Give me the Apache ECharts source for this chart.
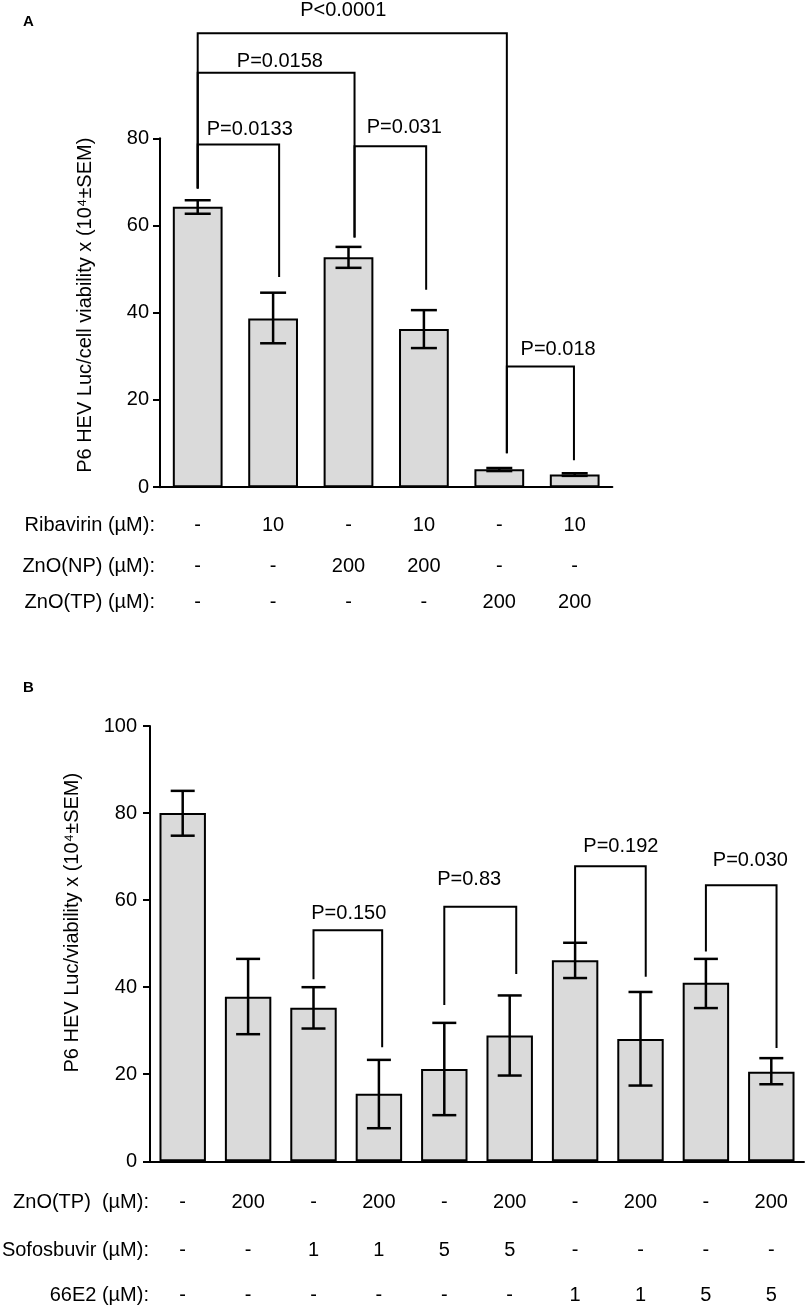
<!DOCTYPE html>
<html>
<head>
<meta charset="utf-8">
<title>P6 HEV Luc panels A and B</title>
<script src="https://cdn.jsdelivr.net/npm/echarts@6/dist/echarts.min.js"></script>
<style>
  html, body { margin: 0; padding: 0; background: #fff; }
  #chart { width: 807px; height: 1312px; }
</style>
</head>
<body>
<div id="chart"></div>
<script>
// ---- panel A ----
var groupsA = ['A1', 'A2', 'A3', 'A4', 'A5', 'A6'];
var meanA = [64.3, 38.7, 52.7, 36.3, 4.1, 2.9];
var lowA  = [62.7, 33.0, 50.3, 31.9, 3.7, 2.6];
var highA = [65.8, 44.6, 55.1, 40.6, 4.4, 3.2];
var ribavirinA = ['-', '10', '-', '10', '-', '10'];
var znoNpA     = ['-', '-', '200', '200', '-', '-'];
var znoTpA     = ['-', '-', '-', '-', '200', '200'];
// [from, to, left end, top, right end, text, text x, text y]  (data units)
var bracketsA = [
  [0, 4.1, 68.5, 104.1, 7.8, 'P<0.0001', 1.93, 109.4],
  [0, 2.08, 68.5, 95.05, 57.25, 'P=0.0158', 1.09, 97.5],
  [0, 1.08, 68.5, 78.6, 48.2, 'P=0.0133', 0.69, 82.0],
  [2.08, 3.03, 57.25, 78.2, 45.3, 'P=0.031', 2.74, 82.4],
  [4.1, 4.99, 7.8, 27.7, 6.2, 'P=0.018', 4.78, 31.6]
];

// ---- panel B ----
var groupsB = ['B1', 'B2', 'B3', 'B4', 'B5', 'B6', 'B7', 'B8', 'B9', 'B10'];
var meanB = [80.0, 37.8, 35.3, 15.5, 21.2, 28.9, 46.2, 28.1, 41.0, 20.6];
var lowB  = [74.8, 29.2, 30.5, 7.6, 10.6, 19.7, 42.1, 17.4, 35.2, 17.7];
var highB = [85.1, 46.5, 40.0, 23.3, 31.8, 38.1, 50.2, 38.9, 46.5, 23.7];
var znoTpB      = ['-', '200', '-', '200', '-', '200', '-', '200', '-', '200'];
var sofosbuvirB = ['-', '-', '1', '1', '5', '5', '-', '-', '-', '-'];
var e66B        = ['-', '-', '-', '-', '-', '-', '1', '1', '5', '5'];
var bracketsB = [
  [2, 3.05, 41.8, 53.1, 26.2, 'P=0.150', 2.54, 57.0],
  [4, 5.1, 35.9, 58.5, 43.0, 'P=0.83', 4.38, 64.8],
  [6, 7.08, 50.2, 67.8, 42.4, 'P=0.192', 6.7, 72.3],
  [8, 9.08, 48.2, 63.4, 26.0, 'P=0.030', 8.68, 69.0]
];

var FONT = '"Liberation Sans", Arial, sans-serif';
var txt = { color: '#000', fontSize: 20, fontFamily: FONT };

function errorBar(half) {
  return function (params, api) {
    var x = api.value(0);
    var lo = api.coord([x, api.value(1)]);
    var hi = api.coord([x, api.value(2)]);
    var st = { stroke: '#000', lineWidth: 2.5 };
    return {
      type: 'group',
      children: [
        { type: 'line', shape: { x1: lo[0], y1: lo[1], x2: hi[0], y2: hi[1] }, style: st },
        { type: 'line', shape: { x1: hi[0] - half, y1: hi[1], x2: hi[0] + half, y2: hi[1] }, style: st },
        { type: 'line', shape: { x1: lo[0] - half, y1: lo[1], x2: lo[0] + half, y2: lo[1] }, style: st }
      ]
    };
  };
}

function bracket(list) {
  return function (params, api) {
    var b = list[params.dataIndex];
    var p1 = api.coord([b[0], b[2]]);
    var p2 = api.coord([b[0], b[3]]);
    var p3 = api.coord([b[1], b[3]]);
    var p4 = api.coord([b[1], b[4]]);
    var t = api.coord([b[6], b[7]]);
    return {
      type: 'group',
      children: [
        { type: 'polyline', shape: { points: [p1, p2, p3, p4] },
          style: { stroke: '#000', lineWidth: 2, fill: null } },
        { type: 'text', x: t[0], y: t[1],
          style: { text: b[5], fill: '#000', fontSize: 20, fontFamily: FONT,
                   align: 'center', verticalAlign: 'middle' } }
      ]
    };
  };
}

function rowAxis(grid, cats, row, name, offset, gap) {
  return {
    type: 'category', gridIndex: grid, data: cats, position: 'bottom', offset: offset,
    axisLine: { show: false, onZero: false }, axisTick: { show: false },
    axisLabel: Object.assign({ interval: 0, margin: 0, verticalAlign: 'middle',
      formatter: function (v, i) { return row[i]; } }, txt),
    name: name, nameLocation: 'start', nameGap: gap, nameTextStyle: txt
  };
}

function mainX(grid, cats) {
  return {
    type: 'category', gridIndex: grid, data: cats,
    axisLine: { onZero: false, lineStyle: { color: '#000', width: 2 } },
    axisTick: { alignWithLabel: true, length: 7, lineStyle: { color: '#000', width: 2 } },
    axisLabel: { show: false }
  };
}

function hiddenX(grid, n) {
  return { type: 'value', gridIndex: grid, min: -0.5, max: n - 0.5, show: false };
}

function mainY(grid, max, name, gap, margin, shift) {
  return {
    type: 'value', gridIndex: grid, min: 0, max: max, interval: 20,
    splitLine: { show: false },
    axisLine: { show: true, onZero: false, lineStyle: { color: '#000', width: 2 } },
    axisTick: { show: true, length: 7, lineStyle: { color: '#000', width: 2 } },
    axisLabel: Object.assign({ margin: margin }, txt),
    name: name, nameLocation: 'middle', nameGap: gap,
    nameTextStyle: Object.assign({ padding: [0, 0, 0, shift] }, txt)
  };
}

var barStyle = { color: '#dadada', borderColor: '#000', borderWidth: 2 };

var option = {
  animation: false,
  backgroundColor: '#fff',
  grid: [
    { left: 160, top: 138.3, width: 452.4, height: 348.9 },
    { left: 150, top: 726, width: 654, height: 435.3 }
  ],
  xAxis: [
    mainX(0, groupsA),
    rowAxis(0, groupsA, ribavirinA, 'Ribavirin (µM):', 38, 5),
    rowAxis(0, groupsA, znoNpA, 'ZnO(NP) (µM):', 79, 5),
    rowAxis(0, groupsA, znoTpA, 'ZnO(TP) (µM):', 115, 5),
    hiddenX(0, groupsA.length),
    mainX(1, groupsB),
    rowAxis(1, groupsB, znoTpB, 'ZnO(TP)  (µM):', 41, 1),
    rowAxis(1, groupsB, sofosbuvirB, 'Sofosbuvir (µM):', 89.5, 1),
    rowAxis(1, groupsB, e66B, '66E2 (µM):', 134.5, 1),
    hiddenX(1, groupsB.length)
  ],
  yAxis: [
    mainY(0, 80, 'P6 HEV Luc/cell viability x (10⁴±SEM)', 65, 11, 15),
    mainY(1, 100, 'P6 HEV Luc/viability x (10⁴±SEM)', 68, 13, 42)
  ],
  series: [
    { type: 'bar', xAxisIndex: 0, yAxisIndex: 0, data: meanA, barWidth: '66%',
      itemStyle: barStyle, silent: true },
    { type: 'custom', xAxisIndex: 4, yAxisIndex: 0, clip: false, z: 5,
      data: meanA.map(function (m, i) { return [i, lowA[i], highA[i]]; }),
      renderItem: errorBar(13) },
    { type: 'custom', xAxisIndex: 4, yAxisIndex: 0, clip: false, z: 6,
      data: bracketsA.map(function (b) { return [b[0], b[3]]; }),
      renderItem: bracket(bracketsA) },
    { type: 'bar', xAxisIndex: 5, yAxisIndex: 1, data: meanB, barWidth: '71%',
      itemStyle: barStyle, silent: true },
    { type: 'custom', xAxisIndex: 9, yAxisIndex: 1, clip: false, z: 5,
      data: meanB.map(function (m, i) { return [i, lowB[i], highB[i]]; }),
      renderItem: errorBar(12) },
    { type: 'custom', xAxisIndex: 9, yAxisIndex: 1, clip: false, z: 6,
      data: bracketsB.map(function (b) { return [b[0], b[3]]; }),
      renderItem: bracket(bracketsB) }
  ],
  graphic: [
    { type: 'text', left: 23, top: 14, style: { text: 'A', fill: '#000', font: 'bold 15px ' + FONT } },
    { type: 'text', left: 23, top: 680, style: { text: 'B', fill: '#000', font: 'bold 15px ' + FONT } }
  ]
};

var chart = echarts.init(document.getElementById('chart'));
chart.setOption(option);
</script>
</body>
</html>
